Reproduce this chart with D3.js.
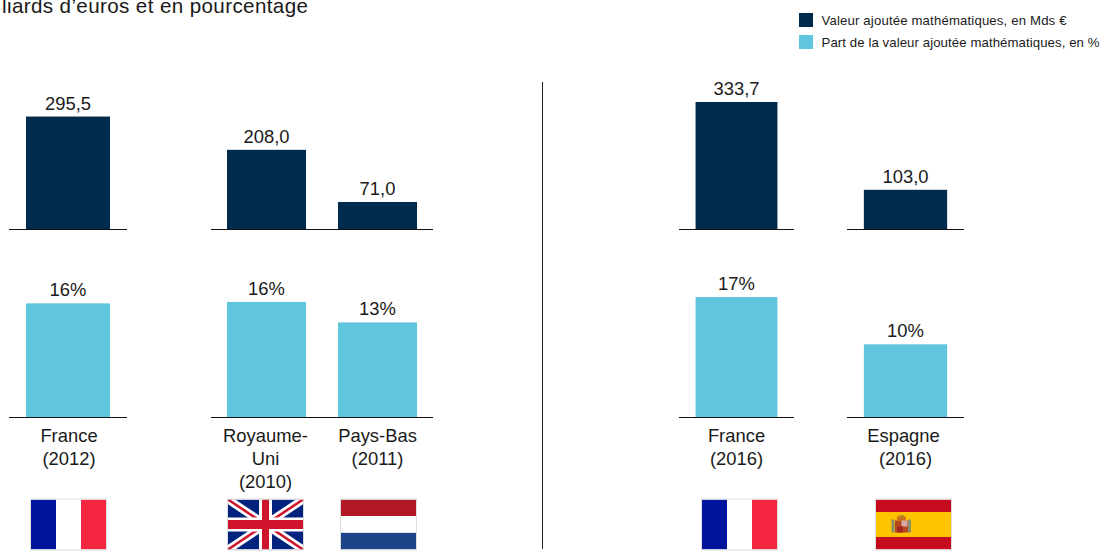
<!DOCTYPE html>
<html lang="fr">
<head>
<meta charset="utf-8">
<style>
  html, body { margin: 0; padding: 0; background: #fff; }
  svg { display: block; }
  text { font-family: "Liberation Sans", Arial, sans-serif; fill: #1a1a1a; }
</style>
</head>
<body>
<div id="chart"></div>
<script src="https://cdn.jsdelivr.net/npm/d3@7"></script>
<script>
const titleText = 'liards d’euros et en pourcentage';
const legendLabels = ['Valeur ajoutée mathématiques, en Mds €', 'Part de la valeur ajoutée mathématiques, en %'];

const countryKeys = ['fr2012', 'uk2010', 'nl2011', 'fr2016', 'es2016'];
const countryLines = [['France', '(2012)'], ['Royaume-', 'Uni', '(2010)'], ['Pays-Bas', '(2011)'], ['France', '(2016)'], ['Espagne', '(2016)']];
const flagNames = ['fr', 'uk', 'nl', 'fr', 'es'];
const valueAdded = [295.5, 208.0, 71.0, 333.7, 103.0];
const valueLabels = ['295,5', '208,0', '71,0', '333,7', '103,0'];
const shareValues = [16.1, 16.3, 13.4, 17.0, 10.3];
const shareLabels = ['16%', '16%', '13%', '17%', '10%'];
const groups = [['fr2012'], ['uk2010', 'nl2011'], ['fr2016'], ['es2016']];

const width = 1110;
const height = 552;
const darkBlue = '#012b4d';
const lightBlue = '#62c5de';

// horizontal extent of each small chart
const groupRanges = [[9, 127], [211, 433], [679, 794], [847, 964]];
const flagShift = { fr2012: 0, uk2010: -1, nl2011: 0.5, fr2016: 3, es2016: 8 };
const labelShift = { fr2012: [1, 1], uk2010: [-1, -1, -1], nl2011: [0, 0], fr2016: [0, 0], es2016: [-2, 0] };

const yValue = d3.scaleLinear().domain([0, 333.7]).range([229, 102]);
const yShare = d3.scaleLinear().domain([0, 17]).range([417, 297]);

const svg = d3.select('#chart').append('svg')
  .attr('width', width)
  .attr('height', height);

svg.append('text')
  .attr('x', 2)
  .attr('y', 13)
  .attr('font-size', 20.6)
  .attr('textLength', 306)
  .attr('lengthAdjust', 'spacing')
  .text(titleText);

// legend
const legend = svg.selectAll('g.legend')
  .data(legendLabels)
  .join('g')
  .attr('class', 'legend')
  .attr('transform', (d, i) => `translate(799, ${13 + i * 22})`);

legend.append('rect')
  .attr('width', 14)
  .attr('height', 14)
  .attr('fill', (d, i) => i === 0 ? darkBlue : lightBlue);

legend.append('text')
  .attr('x', 22.5)
  .attr('y', 11.5)
  .attr('font-size', 13.2)
  .attr('textLength', (d, i) => i === 0 ? 245 : 278)
  .attr('lengthAdjust', 'spacing')
  .text(d => d);

// separator between the two panels
svg.append('line')
  .attr('x1', 542.5).attr('x2', 542.5)
  .attr('y1', 82).attr('y2', 549)
  .attr('stroke', '#222')
  .attr('stroke-width', 1);

function drawFlag(g, name) {
  const w = 75, h = 50;
  const clipId = 'clip-' + Math.random().toString(36).slice(2);
  g.append('clipPath').attr('id', clipId).append('rect').attr('width', w).attr('height', h);
  const f = g.append('g').attr('clip-path', `url(#${clipId})`);
  const band = (x, y, bw, bh, c) => f.append('rect').attr('x', x).attr('y', y).attr('width', bw).attr('height', bh).attr('fill', c);

  if (name === 'fr') {
    band(0, 0, 25, h, '#00149e');
    band(25, 0, 25, h, '#fff');
    band(50, 0, 25, h, '#f5263f');
  } else if (name === 'nl') {
    band(0, 0, w, h / 3, '#b01923');
    band(0, h / 3, w, h / 3, '#fff');
    band(0, 2 * h / 3, w, h / 3, '#1d4489');
  } else if (name === 'es') {
    band(0, 0, w, 12.5, '#c60b1e');
    band(0, 12.5, w, 25, '#ffc400');
    band(0, 37.5, w, 12.5, '#c60b1e');
    // small coat of arms
    band(15.5, 20, 3, 13, '#8a8f6a');
    band(32, 20, 3, 13, '#8a8f6a');
    band(21, 17, 9, 4, '#c8751a');
    band(19, 21, 13, 12, '#b5481f');
    band(25.5, 21, 6, 6, '#d9a9a9');
    band(21, 27, 6, 6, '#a8271f');
    band(23, 15.5, 5, 2, '#b98a2a');
  } else if (name === 'uk') {
    band(0, 0, w, h, '#00247d');
    const diag = (x1, y1, x2, y2, c, sw) => f.append('line')
      .attr('x1', x1).attr('y1', y1).attr('x2', x2).attr('y2', y2)
      .attr('stroke', c).attr('stroke-width', sw);
    diag(0, 0, w, h, '#fff', 8);
    diag(w, 0, 0, h, '#fff', 8);
    diag(0, 0, w, h, '#cf142b', 2.5);
    diag(w, 0, 0, h, '#cf142b', 2.5);
    band(w / 2 - 6.5, 0, 13, h, '#fff');
    band(0, h / 2 - 7, w, 14, '#fff');
    band(w / 2 - 3.5, 0, 7, h, '#cf142b');
    band(0, h / 2 - 4.5, w, 9, '#cf142b');
  }
  g.append('rect')
    .attr('x', -0.5).attr('y', -0.5)
    .attr('width', w + 1).attr('height', h + 1)
    .attr('fill', 'none')
    .attr('stroke', '#dcdcdc')
    .attr('stroke-width', 1);
}

groups.forEach((keys, gi) => {
  const x = d3.scaleBand()
    .domain(keys)
    .range(groupRanges[gi])
    .paddingInner(0.288)
    .paddingOuter(0.144);

  const rows = keys.map(k => countryKeys.indexOf(k));

  svg.selectAll(null).data(rows).join('rect')
    .attr('x', i => x(countryKeys[i]))
    .attr('y', i => yValue(valueAdded[i]))
    .attr('width', x.bandwidth())
    .attr('height', i => yValue(0) - yValue(valueAdded[i]))
    .attr('fill', darkBlue);

  svg.selectAll(null).data(rows).join('rect')
    .attr('x', i => x(countryKeys[i]))
    .attr('y', i => yShare(shareValues[i]))
    .attr('width', x.bandwidth())
    .attr('height', i => yShare(0) - yShare(shareValues[i]))
    .attr('fill', lightBlue);

  [yValue, yShare].forEach(y => {
    svg.append('line')
      .attr('x1', groupRanges[gi][0]).attr('x2', groupRanges[gi][1])
      .attr('y1', y(0) + 0.5).attr('y2', y(0) + 0.5)
      .attr('stroke', '#111')
      .attr('stroke-width', 1);
  });

  const centre = i => x(countryKeys[i]) + x.bandwidth() / 2;

  svg.selectAll(null).data(rows).join('text')
    .attr('x', centre)
    .attr('y', i => yValue(valueAdded[i]) - 7)
    .attr('text-anchor', 'middle')
    .attr('font-size', 18.4)
    .text(i => valueLabels[i]);

  svg.selectAll(null).data(rows).join('text')
    .attr('x', centre)
    .attr('y', i => yShare(shareValues[i]) - 7)
    .attr('text-anchor', 'middle')
    .attr('font-size', 18.4)
    .text(i => shareLabels[i]);

  rows.forEach(i => {
    const key = countryKeys[i];
    countryLines[i].forEach((line, li) => {
      svg.append('text')
        .attr('x', centre(i) + labelShift[key][li])
        .attr('y', 442 + li * 23)
        .attr('text-anchor', 'middle')
        .attr('font-size', 18.4)
        .text(line);
    });
    const flag = svg.append('g')
      .attr('transform', `translate(${Math.round(centre(i) + flagShift[key] - 37.5)}, 499.5)`);
    drawFlag(flag, flagNames[i]);
  });
});
</script>
</body>
</html>
